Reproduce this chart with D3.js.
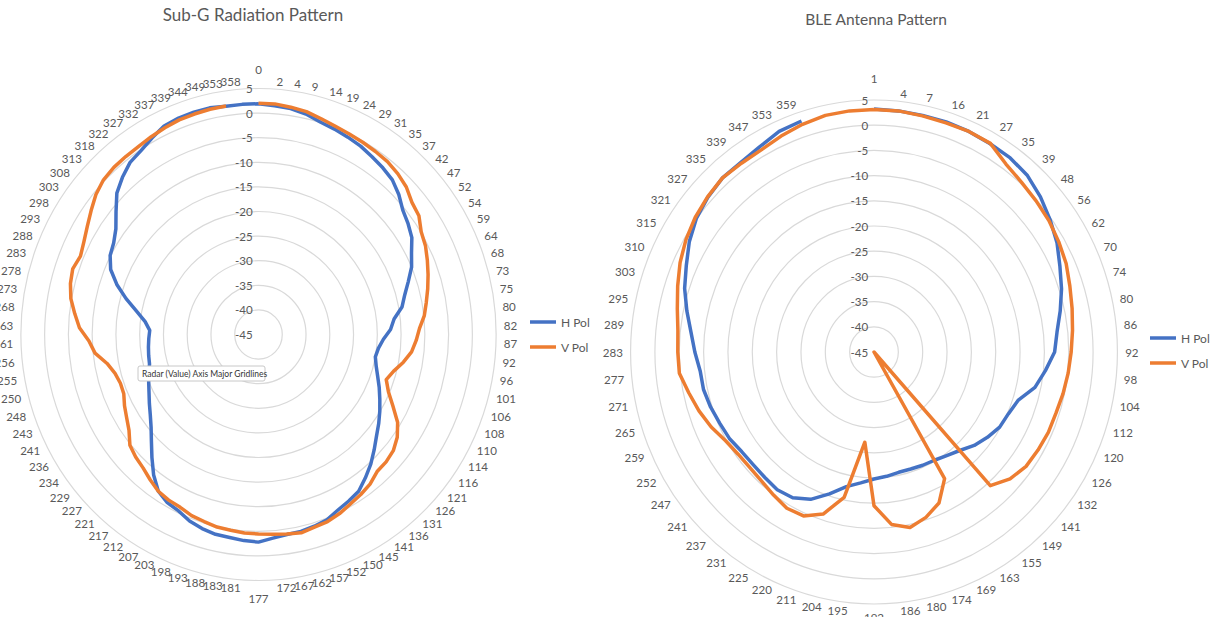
<!DOCTYPE html>
<html>
<head>
<meta charset="utf-8">
<script src="https://cdn.jsdelivr.net/npm/d3@7"></script>
<style>
body { margin: 0; background: #fff; }
text { font-family: Lato, "Open Sans", sans-serif; fill: #595959; }
</style>
</head>
<body>
<div id="my_dataviz"></div>
<script>
// categories + values
var subgCategories = ["0","2","4","9","14","19","24","29","31","35","37","42","47","52","54","59","64","68","73","75",
    "80","82","87","92","96","101","106","108","110","114","116","121","126","131","136","141","145","150","152","157",
    "162","167","172","177","181","183","188","193","198","203","207","212","217","221","227","229","234","236","241","243",
    "248","250","255","256","261","263","268","273","278","283","288","293","298","303","308","313","318","322","327","332",
    "337","339","344","349","353","358"];
var subgHPol = [1.9,1.6,1.4,0.9,0.1,-0.3,-0.7,-1.1,-1.7,-2.2,
    -2.8,-4.0,-5.5,-6.3,-7.2,-8.8,-10.0,-11.7,-13.2,-14.3,
    -16.3,-17.2,-18.7,-19.6,-20.0,-19.4,-18.5,-17.4,-16.3,-15.1,
    -13.9,-12.7,-11.2,-9.6,-8.2,-6.8,-6.2,-5.6,-4.7,-4.3,
    -4.0,-3.9,-3.5,-2.8,-3.0,-3.3,-3.4,-3.8,-4.4,-5.4,
    -5.8,-6.8,-8.9,-11.4,-13.7,-15.6,-17.0,-18.1,-19.1,-19.9,
    -20.6,-21.3,-21.5,-21.7,-21.9,-22.1,-21.0,-18.9,-16.2,-13.5,
    -11.2,-9.9,-9.3,-8.1,-6.0,-3.6,-2.1,-0.8,-0.2,0.8,
    1.8,2.1,2.2,2.2,1.9,1.9];
var subgVPol = [2.0,2.0,1.7,1.4,0.8,0.3,0.0,-0.2,-0.4,-0.6,
    -1.1,-1.8,-3.0,-3.5,-4.9,-5.5,-6.4,-7.3,-8.2,-9.1,
    -9.9,-11.1,-11.8,-12.6,-14.0,-15.6,-16.6,-15.3,-13.2,-10.7,
    -9.1,-8.1,-7.7,-7.6,-6.6,-6.0,-5.5,-4.8,-4.3,-4.1,
    -3.7,-4.0,-4.3,-4.45,-4.55,-4.8,-4.9,-5.3,-5.6,-6.2,
    -6.4,-6.8,-7.7,-8.6,-9.1,-9.8,-11.5,-12.5,-13.3,-14.2,
    -14.3,-13.8,-12.6,-10.4,-9.3,-7.3,-6.1,-4.85,-4.1,-3.7,
    -4.3,-3.7,-2.8,-1.7,-0.5,0.3,0.6,0.7,0.8,1.1,
    1.4,1.7,1.8,1.9,1.95,null];

var bleCategories = ["1","4","7","16","21","27","35","39","48","56","62","70","74","80","86","92","98","104","112","120",
    "126","132","141","149","155","163","169","174","180","186","192","195","204","211","220","225","231","237","241","247",
    "252","259","265","271","277","283","289","295","303","310","315","321","327","335","339","347","353","359","",""];
var bleHPol = [3.2,3.1,3.0,3.0,2.9,2.7,2.6,2.1,1.0,-0.3,
    -1.6,-3.2,-4.5,-5.9,-7.2,-7.9,-9.6,-11.2,-13.9,-14.8,
    -15.2,-16.2,-17.3,-18.7,-19.6,-20.2,-20.4,-20.6,-20.6,-20.2,
    -19.8,-18.9,-17.7,-15.4,-13.0,-11.6,-11.2,-11.5,-11.6,-11.4,
    -10.7,-10.3,-9.7,-9.2,-9.1,-8.2,-7.2,-5.7,-4.1,-2.8,
    -1.2,0.1,0.9,1.5,1.5,2.0,2.9,3.2,null,null];
var bleVPol = [3.1,3.1,2.9,2.8,2.9,2.8,1.1,0.3,-0.2,-0.6,
    -1.2,-1.8,-2.7,-3.4,-4.0,-4.5,-4.9,-5.3,-5.7,-5.8,
    -6.1,-6.4,-7.4,-9.3,-45,-16,-12.2,-10.5,-9.4,-10.6,
    -14.5,-27,-15.5,-11.2,-9.4,-9.2,-9.9,-10.5,-10.7,-10.5,
    -9.8,-8.4,-7.2,-6.1,-4.8,-4.7,-4.5,-3.7,-2.6,-1.4,
    -0.4,0.4,1.0,1.5,1.3,1.3,1.9,2.5,3.0,3.1];

var valueTicks = [5,0,-5,-10,-15,-20,-25,-30,-35,-40,-45];
var seriesNames = ["H Pol","V Pol"];
var seriesColors = ["#4472C4","#ED7D31"];

var svg = d3.select("#my_dataviz")
    .append("svg")
    .attr("width", 1219)
    .attr("height", 617);

function drawRadar(cfg) {
    var n = cfg.categories.length;
    var r = d3.scaleLinear().domain([-45, 5]).range([0, cfg.radius]);
    var angle = d3.scaleLinear().domain([0, n]).range([0, 2 * Math.PI]);

    svg.append("text")
        .attr("x", cfg.titleX)
        .attr("y", cfg.titleY)
        .attr("text-anchor", "middle")
        .style("font-size", cfg.titleSize)
        .text(cfg.title);

    var g = svg.append("g")
        .attr("transform", "translate(" + cfg.cx + "," + cfg.cy + ") scale(" + cfg.sx + ",1)");

    // gridlines
    g.selectAll(".ring")
        .data(valueTicks.filter(function(t) { return r(t) > 0; }))
        .enter().append("circle")
        .attr("r", function(d) { return r(d); })
        .attr("fill", "none")
        .attr("stroke", "#d9d9d9")
        .attr("stroke-width", 1.2)
        .attr("vector-effect", "non-scaling-stroke");

    // value axis labels
    g.selectAll(".vtick")
        .data(valueTicks)
        .enter().append("text")
        .attr("x", -6)
        .attr("y", function(d) { return -r(d); })
        .attr("text-anchor", "end")
        .attr("dominant-baseline", "central")
        .style("font-size", "12px")
        .text(function(d) { return d; });

    // category labels: right half hangs off its left edge, left half off its right edge
    var lr = cfg.radius + 8;
    g.selectAll(".cat")
        .data(cfg.categories)
        .enter().append("text")
        .style("font-size", "12px")
        .attr("dominant-baseline", "central")
        .text(function(d) { return d; })
        .each(function(d, i) {
            var a = angle(i);
            var s = Math.sin(a), c = Math.cos(a);
            var sel = d3.select(this);
            if (Math.abs(s) < 1e-6) {
                sel.attr("text-anchor", "middle")
                    .attr("x", 0)
                    .attr("y", c > 0 ? -(lr + cfg.topGap) : lr + cfg.bottomGap);
            } else {
                sel.attr("text-anchor", s > 0 ? "start" : "end")
                    .attr("x", lr * s)
                    .attr("y", -lr * c);
            }
        });

    // series
    cfg.series.forEach(function(vals, k) {
        var pts = vals.map(function(v, i) { return {i: i, v: v}; });
        pts.push({i: n, v: vals[0]});
        var line = d3.lineRadial()
            .defined(function(d) { return d.v !== null; })
            .angle(function(d) { return angle(d.i); })
            .radius(function(d) { return r(d.v); });
        g.append("path")
            .datum(pts)
            .attr("d", line)
            .attr("fill", "none")
            .attr("stroke", seriesColors[k])
            .attr("stroke-width", 3.5)
            .attr("stroke-linejoin", "round")
            .attr("vector-effect", "non-scaling-stroke");
    });

    // legend
    var leg = svg.append("g").attr("transform", "translate(" + cfg.legendX + "," + cfg.legendY + ")");
    seriesNames.forEach(function(name, k) {
        leg.append("line")
            .attr("x1", 0).attr("x2", 26)
            .attr("y1", k * 25).attr("y2", k * 25)
            .attr("stroke", seriesColors[k])
            .attr("stroke-width", 3.5);
        leg.append("text")
            .attr("x", 31).attr("y", k * 25)
            .attr("dominant-baseline", "central")
            .style("font-size", "12px")
            .text(name);
    });
}

drawRadar({
    title: "Sub-G Radiation Pattern", titleX: 253, titleY: 21, titleSize: "17px",
    cx: 258.5, cy: 334.5, radius: 246, sx: 0.966, topGap: 11.5, bottomGap: 9.5,
    categories: subgCategories, series: [subgHPol, subgVPol],
    legendX: 530, legendY: 322
});

drawRadar({
    title: "BLE Antenna Pattern", titleX: 876, titleY: 25, titleSize: "15.5px",
    cx: 874, cy: 352, radius: 252, sx: 0.966, topGap: 14, bottomGap: 5,
    categories: bleCategories, series: [bleHPol, bleVPol],
    legendX: 1150, legendY: 338
});

// hover tooltip that was caught in the screenshot
var tip = svg.append("g").attr("transform", "translate(138,366)");
tip.append("rect")
    .attr("width", 127).attr("height", 15).attr("rx", 2)
    .attr("fill", "#fff").attr("stroke", "#c8c8c8");
tip.append("text")
    .attr("x", 4).attr("y", 8)
    .attr("dominant-baseline", "central")
    .style("font-size", "8.5px")
    .style("fill", "#333")
    .text("Radar (Value) Axis Major Gridlines");
</script>
</body>
</html>
